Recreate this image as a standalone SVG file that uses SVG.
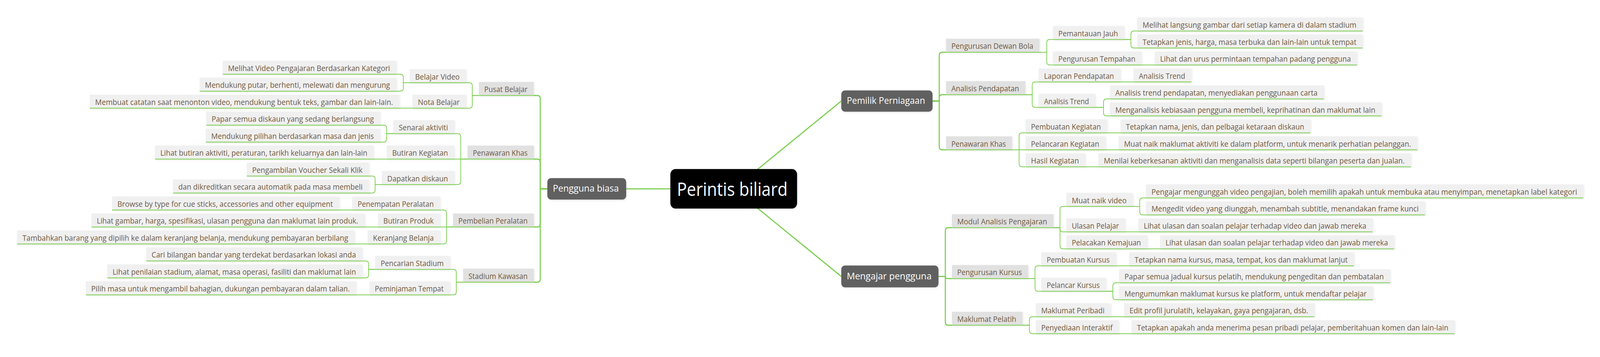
<svg xmlns="http://www.w3.org/2000/svg" width="4382" height="915" viewBox="0 0 4382 915" preserveAspectRatio="none">
<defs>
<filter id="sh" x="-5%" y="-25%" width="110%" height="170%">
<feDropShadow dx="1.5" dy="2" stdDeviation="2.5" flood-color="#000" flood-opacity="0.10"/>
</filter>
<style>
svg:root{width:100vw;height:100vh}
text{font-family:"Open Sans","Noto Sans","DejaVu Sans",sans-serif}
.n2 rect{fill:#e1e1e1;filter:url(#sh)}
.n3 rect,.n4 rect{fill:#f0f0f0;filter:url(#sh)}
.n2 line,.n3 line,.n4 line{stroke:#7dcf52;stroke-width:2}
.n2 text,.n3 text,.n4 text{font-size:20px;fill:#6d5944}
.n1 rect{fill:#616161;filter:url(#sh)}
.n1 text{font-size:24px;fill:#ffffff}
.n0 rect{fill:#000000;filter:url(#sh)}
.n0 text{font-size:47px;fill:#ffffff}
.c path{fill:none;stroke:#7dcf52;stroke-width:2}
.c path.w{stroke-width:3}
</style>
</defs>
<rect x="0" y="0" width="4382" height="915" fill="#ffffff"/>

<g id="connectors" class="c">
<path class="w" d="M2009.5,483.9 H1715"/>
<path class="w" d="M2009.5,483.9 L2304,259.04"/>
<path class="w" d="M2009.5,483.9 L2304,708.49"/>

<path class="w" d="M1462,244.68 H1471.6 Q1479.6,244.68 1479.6,252.68 V483.9 H1499"/>
<path class="w" d="M1462,407.8 H1471.6 Q1479.6,407.8 1479.6,415.8 V483.9 H1499"/>
<path class="w" d="M1462,581.8 H1471.6 Q1479.6,581.8 1479.6,573.8 V483.9 H1499"/>
<path class="w" d="M1462,723.18 H1471.6 Q1479.6,723.18 1479.6,715.18 V483.9 H1499"/>

<path d="M1276,212.05 H1285.5 Q1293.5,212.05 1293.5,220.05 V244.68 H1311.8"/>
<path d="M1276,277.3 H1285.5 Q1293.5,277.3 1293.5,269.3 V244.68 H1311.8"/>
<path d="M1085.2,190.3 H1096.6 Q1104.6,190.3 1104.6,198.3 V212.05 H1122.5"/>
<path d="M1085.2,233.8 H1096.6 Q1104.6,233.8 1104.6,225.8 V212.05 H1122.5"/>
<path d="M1093.5,277.3 H1130"/>

<path d="M1244,342.55 H1253.8 Q1261.8,342.55 1261.8,350.55 V407.8 H1280.5"/>
<path d="M1244,407.8 H1280.5"/>
<path d="M1244,473.05 H1253.8 Q1261.8,473.05 1261.8,465.05 V407.8 H1280.5"/>
<path d="M1041,320.8 H1050.7 Q1058.7,320.8 1058.7,328.8 V342.55 H1077.4"/>
<path d="M1041,364.3 H1050.7 Q1058.7,364.3 1058.7,356.3 V342.55 H1077.4"/>
<path d="M1023,407.8 H1059.5"/>
<path d="M1010,451.3 H1019.4 Q1027.4,451.3 1027.4,459.3 V473.05 H1046"/>
<path d="M1010,494.8 H1019.4 Q1027.4,494.8 1027.4,486.8 V473.05 H1046"/>

<path d="M1205,538.3 H1215 Q1223,538.3 1223,546.3 V581.8 H1240.8"/>
<path d="M1205,581.8 H1240.8"/>
<path d="M1205,625.3 H1215 Q1223,625.3 1223,617.3 V581.8 H1240.8"/>
<path d="M929,538.3 H965"/>
<path d="M998,581.8 H1035.4"/>
<path d="M970.7,625.3 H1007"/>

<path d="M1232,690.55 H1241.7 Q1249.7,690.55 1249.7,698.55 V723.18 H1268.5"/>
<path d="M1232,755.8 H1241.7 Q1249.7,755.8 1249.7,747.8 V723.18 H1268.5"/>
<path d="M992,668.8 H1001.6 Q1009.6,668.8 1009.6,676.8 V690.55 H1028"/>
<path d="M992,712.3 H1001.6 Q1009.6,712.3 1009.6,704.3 V690.55 H1028"/>
<path d="M975,755.8 H1012"/>

<path class="w" d="M2554,259.04 H2572.3 V141.98 Q2572.3,133.98 2580.3,133.98 H2591"/>
<path class="w" d="M2554,259.04 H2572.3 V250.73 Q2572.3,242.73 2580.3,242.73 H2591"/>
<path class="w" d="M2554,259.04 H2572.3 V376.1 Q2572.3,384.1 2580.3,384.1 H2591"/>

<path d="M2847,133.98 H2866.7 V109.35 Q2866.7,101.35 2874.7,101.35 H2884"/>
<path d="M2847,133.98 H2866.7 V158.6 Q2866.7,166.6 2874.7,166.6 H2884"/>
<path d="M3079,101.35 H3097.4 V87.6 Q3097.4,79.6 3105.4,79.6 H3114.8"/>
<path d="M3079,101.35 H3097.4 V115.1 Q3097.4,123.1 3105.4,123.1 H3114.8"/>
<path d="M3126.5,166.6 H3162.8"/>

<path d="M2808,242.73 H2827 V218.1 Q2827,210.1 2835,210.1 H2844.8"/>
<path d="M2808,242.73 H2827 V267.35 Q2827,275.35 2835,275.35 H2844.8"/>
<path d="M3068,210.1 H3104.6"/>
<path d="M2999.5,275.35 H3022.3 V261.6 Q3022.3,253.6 3030.3,253.6 H3040"/>
<path d="M2999.5,275.35 H3022.3 V289.1 Q3022.3,297.1 3030.3,297.1 H3040"/>

<path d="M2772,384.1 H2791 V348.6 Q2791,340.6 2799,340.6 H2809"/>
<path d="M2772,384.1 H2809"/>
<path d="M2772,384.1 H2791 V419.6 Q2791,427.6 2799,427.6 H2809"/>
<path d="M3032,340.6 H3069"/>
<path d="M3027.5,384.1 H3063.8"/>
<path d="M2972,427.6 H3008.6"/>

<path class="w" d="M2570.3,708.49 H2589 V591.43 Q2589,583.43 2597,583.43 H2607"/>
<path class="w" d="M2570.3,708.49 H2589 Q2589,713.93 2594.4,713.93 H2607"/>
<path class="w" d="M2570.3,708.49 H2589 V825.55 Q2589,833.55 2597,833.55 H2607"/>

<path d="M2885,583.43 H2903 V537.05 Q2903,529.05 2911,529.05 H2920.8"/>
<path d="M2885,583.43 H2903 V586.3 Q2903,594.3 2911,594.3 H2920.8"/>
<path d="M2885,583.43 H2903 V629.8 Q2903,637.8 2911,637.8 H2920.8"/>
<path d="M3102.5,529.05 H3121.4 V515.3 Q3121.4,507.3 3129.4,507.3 H3139"/>
<path d="M3102.5,529.05 H3121.4 V542.8 Q3121.4,550.8 3129.4,550.8 H3139"/>
<path d="M3081.6,594.3 H3117.9"/>
<path d="M3141.8,637.8 H3177.6"/>

<path d="M2816,713.93 H2834.6 V689.3 Q2834.6,681.3 2842.6,681.3 H2852"/>
<path d="M2816,713.93 H2834.6 V738.55 Q2834.6,746.55 2842.6,746.55 H2852"/>
<path d="M3056,681.3 H3092.9"/>
<path d="M3029,746.55 H3047.9 V732.8 Q3047.9,724.8 3055.9,724.8 H3065.3"/>
<path d="M3029,746.55 H3047.9 V760.3 Q3047.9,768.3 3055.9,768.3 H3065.3"/>

<path d="M2800.4,833.55 H2819.3 V819.8 Q2819.3,811.8 2827.3,811.8 H2837"/>
<path d="M2800.4,833.55 H2819.3 V847.3 Q2819.3,855.3 2827.3,855.3 H2837"/>
<path d="M3042,811.8 H3079"/>
<path d="M3064,855.3 H3099.5"/>
</g>

<g id="n-root" class="n0"><rect x="1836" y="433.2" width="347" height="101.4" rx="14"/><text x="1854" y="502.5" textLength="303" lengthAdjust="spacingAndGlyphs">Perintis biliard</text></g>

<g id="n-pengguna-biasa" class="n1"><rect x="1499" y="456.4" width="216" height="55" rx="10"/><text x="1514" y="491.4" textLength="181" lengthAdjust="spacingAndGlyphs">Pengguna biasa</text></g>
<g id="n-pemilik" class="n1"><rect x="2304" y="231.7" width="250" height="54.6" rx="10"/><text x="2319" y="266.5" textLength="214.6" lengthAdjust="spacingAndGlyphs">Pemilik Perniagaan</text></g>
<g id="n-mengajar" class="n1"><rect x="2304" y="680.6" width="266.3" height="55.8" rx="10"/><text x="2319" y="716" textLength="232.4" lengthAdjust="spacingAndGlyphs">Mengajar pengguna</text></g>

<g id="n-pusat-belajar" class="n2"><rect x="1311.8" y="210.08" width="150" height="34.6"/><line x1="1311.8" y1="244.68" x2="1461.8" y2="244.68"/><text x="1326.3" y="236.2" textLength="118.5" lengthAdjust="spacingAndGlyphs">Pusat Belajar</text></g>
<g id="n-penawaran-khas-l" class="n2"><rect x="1280.5" y="373.2" width="181.5" height="34.6"/><line x1="1280.5" y1="407.8" x2="1462" y2="407.8"/><text x="1295" y="399.3" textLength="150" lengthAdjust="spacingAndGlyphs">Penawaran Khas</text></g>
<g id="n-pembelian-peralatan" class="n2"><rect x="1240.8" y="547.2" width="221.2" height="34.6"/><line x1="1240.8" y1="581.8" x2="1462" y2="581.8"/><text x="1255.3" y="573.3" textLength="189.7" lengthAdjust="spacingAndGlyphs">Pembelian Peralatan</text></g>
<g id="n-stadium-kawasan" class="n2"><rect x="1268.5" y="688.58" width="193.5" height="34.6"/><line x1="1268.5" y1="723.18" x2="1462" y2="723.18"/><text x="1283" y="714.7" textLength="162" lengthAdjust="spacingAndGlyphs">Stadium Kawasan</text></g>

<g id="n-belajar-video" class="n3"><rect x="1122.5" y="177.45" width="153.5" height="34.6"/><line x1="1122.5" y1="212.05" x2="1276" y2="212.05"/><text x="1137" y="203.55" textLength="122" lengthAdjust="spacingAndGlyphs">Belajar Video</text></g>
<g id="n-nota-belajar" class="n3"><rect x="1130" y="242.7" width="146" height="34.6"/><line x1="1130" y1="277.3" x2="1276" y2="277.3"/><text x="1144.5" y="268.8" textLength="114.5" lengthAdjust="spacingAndGlyphs">Nota Belajar</text></g>
<g id="n-senarai-aktiviti" class="n3"><rect x="1077.4" y="307.95" width="166.6" height="34.6"/><line x1="1077.4" y1="342.55" x2="1244" y2="342.55"/><text x="1091.9" y="334.05" textLength="135.1" lengthAdjust="spacingAndGlyphs">Senarai aktiviti</text></g>
<g id="n-butiran-kegiatan" class="n3"><rect x="1059.5" y="373.2" width="184.5" height="34.6"/><line x1="1059.5" y1="407.8" x2="1244" y2="407.8"/><text x="1074" y="399.3" textLength="153" lengthAdjust="spacingAndGlyphs">Butiran Kegiatan</text></g>
<g id="n-dapatkan-diskaun" class="n3"><rect x="1046" y="438.45" width="198" height="34.6"/><line x1="1046" y1="473.05" x2="1244" y2="473.05"/><text x="1060.5" y="464.55" textLength="166.5" lengthAdjust="spacingAndGlyphs">Dapatkan diskaun</text></g>
<g id="n-penempatan-peralatan" class="n3"><rect x="965" y="503.7" width="240" height="34.6"/><line x1="965" y1="538.3" x2="1205" y2="538.3"/><text x="979.5" y="529.8" textLength="208.5" lengthAdjust="spacingAndGlyphs">Penempatan Peralatan</text></g>
<g id="n-butiran-produk" class="n3"><rect x="1035.4" y="547.2" width="169.6" height="34.6"/><line x1="1035.4" y1="581.8" x2="1205" y2="581.8"/><text x="1049.9" y="573.3" textLength="138.1" lengthAdjust="spacingAndGlyphs">Butiran Produk</text></g>
<g id="n-keranjang-belanja" class="n3"><rect x="1007" y="590.7" width="198" height="34.6"/><line x1="1007" y1="625.3" x2="1205" y2="625.3"/><text x="1021.5" y="616.8" textLength="166.5" lengthAdjust="spacingAndGlyphs">Keranjang Belanja</text></g>
<g id="n-pencarian-stadium" class="n3"><rect x="1028" y="655.95" width="204" height="34.6"/><line x1="1028" y1="690.55" x2="1232" y2="690.55"/><text x="1042.5" y="682.05" textLength="172.5" lengthAdjust="spacingAndGlyphs">Pencarian Stadium</text></g>
<g id="n-peminjaman-tempat" class="n3"><rect x="1012" y="721.2" width="220" height="34.6"/><line x1="1012" y1="755.8" x2="1232" y2="755.8"/><text x="1026.5" y="747.3" textLength="188.5" lengthAdjust="spacingAndGlyphs">Peminjaman Tempat</text></g>

<g id="n-l0" class="n4"><rect x="610" y="155.7" width="475.2" height="34.6"/><line x1="610" y1="190.3" x2="1085.2" y2="190.3"/><text x="624.5" y="181.8" textLength="443.7" lengthAdjust="spacingAndGlyphs">Melihat Video Pengajaran Berdasarkan Kategori</text></g>
<g id="n-l1" class="n4"><rect x="547" y="199.2" width="538.2" height="34.6"/><line x1="547" y1="233.8" x2="1085.2" y2="233.8"/><text x="561.5" y="225.3" textLength="506.7" lengthAdjust="spacingAndGlyphs">Mendukung putar, berhenti, melewati dan mengurung</text></g>
<g id="n-l2" class="n4"><rect x="246" y="242.7" width="847.5" height="34.6"/><line x1="246" y1="277.3" x2="1093.5" y2="277.3"/><text x="260.5" y="268.8" textLength="816" lengthAdjust="spacingAndGlyphs">Membuat catatan saat menonton video, mendukung bentuk teks, gambar dan lain-lain.</text></g>
<g id="n-l3" class="n4"><rect x="565" y="286.2" width="476" height="34.6"/><line x1="565" y1="320.8" x2="1041" y2="320.8"/><text x="579.5" y="312.3" textLength="444.5" lengthAdjust="spacingAndGlyphs">Papar semua diskaun yang sedang berlangsung</text></g>
<g id="n-l4" class="n4"><rect x="564" y="329.7" width="477" height="34.6"/><line x1="564" y1="364.3" x2="1041" y2="364.3"/><text x="578.5" y="355.8" textLength="445.5" lengthAdjust="spacingAndGlyphs">Mendukung pilihan berdasarkan masa dan jenis</text></g>
<g id="n-l5" class="n4"><rect x="424.6" y="373.2" width="598.4" height="34.6"/><line x1="424.6" y1="407.8" x2="1023" y2="407.8"/><text x="439.1" y="399.3" textLength="566.9" lengthAdjust="spacingAndGlyphs">Lihat butiran aktiviti, peraturan, tarikh keluarnya dan lain-lain</text></g>
<g id="n-l6" class="n4"><rect x="676" y="416.7" width="334" height="34.6"/><line x1="676" y1="451.3" x2="1010" y2="451.3"/><text x="690.5" y="442.8" textLength="302.5" lengthAdjust="spacingAndGlyphs">Pengambilan Voucher Sekali Klik</text></g>
<g id="n-l7" class="n4"><rect x="474" y="460.2" width="536" height="34.6"/><line x1="474" y1="494.8" x2="1010" y2="494.8"/><text x="488.5" y="486.3" textLength="504.5" lengthAdjust="spacingAndGlyphs">dan dikreditkan secara automatik pada masa membeli</text></g>
<g id="n-l8" class="n4"><rect x="307" y="503.7" width="622" height="34.6"/><line x1="307" y1="538.3" x2="929" y2="538.3"/><text x="321.5" y="529.8" textLength="590.5" lengthAdjust="spacingAndGlyphs">Browse by type for cue sticks, accessories and other equipment</text></g>
<g id="n-l9" class="n4"><rect x="250.5" y="547.2" width="747.5" height="34.6"/><line x1="250.5" y1="581.8" x2="998" y2="581.8"/><text x="265" y="573.3" textLength="716" lengthAdjust="spacingAndGlyphs">Lihat gambar, harga, spesifikasi, ulasan pengguna dan maklumat lain produk.</text></g>
<g id="n-l10" class="n4"><rect x="47" y="590.7" width="923.7" height="34.6"/><line x1="47" y1="625.3" x2="970.7" y2="625.3"/><text x="61.5" y="616.8" textLength="892.2" lengthAdjust="spacingAndGlyphs">Tambahkan barang yang dipilih ke dalam keranjang belanja, mendukung pembayaran berbilang</text></g>
<g id="n-l11" class="n4"><rect x="400.5" y="634.2" width="591.5" height="34.6"/><line x1="400.5" y1="668.8" x2="992" y2="668.8"/><text x="415" y="660.3" textLength="560" lengthAdjust="spacingAndGlyphs">Cari bilangan bandar yang terdekat berdasarkan lokasi anda</text></g>
<g id="n-l12" class="n4"><rect x="293.8" y="677.7" width="698.2" height="34.6"/><line x1="293.8" y1="712.3" x2="992" y2="712.3"/><text x="308.3" y="703.8" textLength="666.7" lengthAdjust="spacingAndGlyphs">Lihat penilaian stadium, alamat, masa operasi, fasiliti dan maklumat lain</text></g>
<g id="n-l13" class="n4"><rect x="235.4" y="721.2" width="739.6" height="34.6"/><line x1="235.4" y1="755.8" x2="975" y2="755.8"/><text x="249.9" y="747.3" textLength="708.1" lengthAdjust="spacingAndGlyphs">Pilih masa untuk mengambil bahagian, dukungan pembayaran dalam talian.</text></g>

<g id="n-dewan-bola" class="n2"><rect x="2591" y="99.38" width="256" height="34.6"/><line x1="2591" y1="133.98" x2="2847" y2="133.98"/><text x="2605.5" y="125.5" textLength="224.5" lengthAdjust="spacingAndGlyphs">Pengurusan Dewan Bola</text></g>
<g id="n-analisis-pendapatan" class="n2"><rect x="2591" y="208.13" width="217" height="34.6"/><line x1="2591" y1="242.73" x2="2808" y2="242.73"/><text x="2605.5" y="234.2" textLength="185.5" lengthAdjust="spacingAndGlyphs">Analisis Pendapatan</text></g>
<g id="n-penawaran-khas-r" class="n2"><rect x="2591" y="349.5" width="181" height="34.6"/><line x1="2591" y1="384.1" x2="2772" y2="384.1"/><text x="2605.5" y="375.6" textLength="149.5" lengthAdjust="spacingAndGlyphs">Penawaran Khas</text></g>
<g id="n-modul" class="n2"><rect x="2607" y="548.83" width="278" height="34.6"/><line x1="2607" y1="583.43" x2="2885" y2="583.43"/><text x="2621.5" y="574.9" textLength="246.5" lengthAdjust="spacingAndGlyphs">Modul Analisis Pengajaran</text></g>
<g id="n-pengurusan-kursus" class="n2"><rect x="2607" y="679.33" width="209" height="34.6"/><line x1="2607" y1="713.93" x2="2816" y2="713.93"/><text x="2621.5" y="705.4" textLength="177.5" lengthAdjust="spacingAndGlyphs">Pengurusan Kursus</text></g>
<g id="n-maklumat-pelatih" class="n2"><rect x="2607" y="798.95" width="193.4" height="34.6"/><line x1="2607" y1="833.55" x2="2800.4" y2="833.55"/><text x="2621.5" y="825.05" textLength="161.9" lengthAdjust="spacingAndGlyphs">Maklumat Pelatih</text></g>

<g id="n-pemantauan-jauh" class="n3"><rect x="2884" y="66.75" width="195" height="34.6"/><line x1="2884" y1="101.35" x2="3079" y2="101.35"/><text x="2898.5" y="92.85" textLength="163.5" lengthAdjust="spacingAndGlyphs">Pemantauan Jauh</text></g>
<g id="n-pengurusan-tempahan" class="n3"><rect x="2884" y="132" width="242.5" height="34.6"/><line x1="2884" y1="166.6" x2="3126.5" y2="166.6"/><text x="2898.5" y="158.1" textLength="211" lengthAdjust="spacingAndGlyphs">Pengurusan Tempahan</text></g>
<g id="n-laporan-pendapatan" class="n3"><rect x="2844.8" y="175.5" width="223.2" height="34.6"/><line x1="2844.8" y1="210.1" x2="3068" y2="210.1"/><text x="2859.3" y="201.6" textLength="191.7" lengthAdjust="spacingAndGlyphs">Laporan Pendapatan</text></g>
<g id="n-analisis-trend" class="n3"><rect x="2844.8" y="240.75" width="154.7" height="34.6"/><line x1="2844.8" y1="275.35" x2="2999.5" y2="275.35"/><text x="2859.3" y="266.85" textLength="123.2" lengthAdjust="spacingAndGlyphs">Analisis Trend</text></g>
<g id="n-pembuatan-kegiatan" class="n3"><rect x="2809" y="306" width="223" height="34.6"/><line x1="2809" y1="340.6" x2="3032" y2="340.6"/><text x="2823.5" y="332.1" textLength="191.5" lengthAdjust="spacingAndGlyphs">Pembuatan Kegiatan</text></g>
<g id="n-pelancaran-kegiatan" class="n3"><rect x="2809" y="349.5" width="218.5" height="34.6"/><line x1="2809" y1="384.1" x2="3027.5" y2="384.1"/><text x="2823.5" y="375.6" textLength="187" lengthAdjust="spacingAndGlyphs">Pelancaran Kegiatan</text></g>
<g id="n-hasil-kegiatan" class="n3"><rect x="2809" y="393" width="163" height="34.6"/><line x1="2809" y1="427.6" x2="2972" y2="427.6"/><text x="2823.5" y="419.1" textLength="131.5" lengthAdjust="spacingAndGlyphs">Hasil Kegiatan</text></g>
<g id="n-muat-naik-video" class="n3"><rect x="2920.8" y="494.45" width="181.7" height="34.6"/><line x1="2920.8" y1="529.05" x2="3102.5" y2="529.05"/><text x="2935.3" y="520.55" textLength="150.2" lengthAdjust="spacingAndGlyphs">Muat naik video</text></g>
<g id="n-ulasan-pelajar" class="n3"><rect x="2920.8" y="559.7" width="160.8" height="34.6"/><line x1="2920.8" y1="594.3" x2="3081.6" y2="594.3"/><text x="2935.3" y="585.8" textLength="129.3" lengthAdjust="spacingAndGlyphs">Ulasan Pelajar</text></g>
<g id="n-pelacakan-kemajuan" class="n3"><rect x="2920.8" y="603.2" width="221" height="34.6"/><line x1="2920.8" y1="637.8" x2="3141.8" y2="637.8"/><text x="2935.3" y="629.3" textLength="189.5" lengthAdjust="spacingAndGlyphs">Pelacakan Kemajuan</text></g>
<g id="n-pembuatan-kursus" class="n3"><rect x="2852" y="646.7" width="204" height="34.6"/><line x1="2852" y1="681.3" x2="3056" y2="681.3"/><text x="2866.5" y="672.8" textLength="172.5" lengthAdjust="spacingAndGlyphs">Pembuatan Kursus</text></g>
<g id="n-pelancar-kursus" class="n3"><rect x="2852" y="711.95" width="177" height="34.6"/><line x1="2852" y1="746.55" x2="3029" y2="746.55"/><text x="2866.5" y="738.05" textLength="145.5" lengthAdjust="spacingAndGlyphs">Pelancar Kursus</text></g>
<g id="n-maklumat-peribadi" class="n3"><rect x="2837" y="777.2" width="205" height="34.6"/><line x1="2837" y1="811.8" x2="3042" y2="811.8"/><text x="2851.5" y="803.3" textLength="173.5" lengthAdjust="spacingAndGlyphs">Maklumat Peribadi</text></g>
<g id="n-penyediaan-interaktif" class="n3"><rect x="2837" y="820.7" width="227" height="34.6"/><line x1="2837" y1="855.3" x2="3064" y2="855.3"/><text x="2851.5" y="846.8" textLength="195.5" lengthAdjust="spacingAndGlyphs">Penyediaan Interaktif</text></g>

<g id="n-r0" class="n4"><rect x="3114.8" y="45" width="617.2" height="34.6"/><line x1="3114.8" y1="79.6" x2="3732" y2="79.6"/><text x="3129.3" y="71.1" textLength="585.7" lengthAdjust="spacingAndGlyphs">Melihat langsung gambar dari setiap kamera di dalam stadium</text></g>
<g id="n-r1" class="n4"><rect x="3114.8" y="88.5" width="617.2" height="34.6"/><line x1="3114.8" y1="123.1" x2="3732" y2="123.1"/><text x="3129.3" y="114.6" textLength="585.7" lengthAdjust="spacingAndGlyphs">Tetapkan jenis, harga, masa terbuka dan lain-lain untuk tempat</text></g>
<g id="n-r2" class="n4"><rect x="3162.8" y="132" width="554" height="34.6"/><line x1="3162.8" y1="166.6" x2="3716.8" y2="166.6"/><text x="3177.3" y="158.1" textLength="522.5" lengthAdjust="spacingAndGlyphs">Lihat dan urus permintaan tempahan padang pengguna</text></g>
<g id="n-r3" class="n4"><rect x="3104.6" y="175.5" width="158.4" height="34.6"/><line x1="3104.6" y1="210.1" x2="3263" y2="210.1"/><text x="3119.1" y="201.6" textLength="126.9" lengthAdjust="spacingAndGlyphs">Analisis Trend</text></g>
<g id="n-r4" class="n4"><rect x="3040" y="219" width="585.5" height="34.6"/><line x1="3040" y1="253.6" x2="3625.5" y2="253.6"/><text x="3054.5" y="245.1" textLength="554" lengthAdjust="spacingAndGlyphs">Analisis trend pendapatan, menyediakan penggunaan carta</text></g>
<g id="n-r5" class="n4"><rect x="3040" y="262.5" width="743.7" height="34.6"/><line x1="3040" y1="297.1" x2="3783.7" y2="297.1"/><text x="3054.5" y="288.6" textLength="712.2" lengthAdjust="spacingAndGlyphs">Menganalisis kebiasaan pengguna membeli, keprihatinan dan maklumat lain</text></g>
<g id="n-r6" class="n4"><rect x="3069" y="306" width="520" height="34.6"/><line x1="3069" y1="340.6" x2="3589" y2="340.6"/><text x="3083.5" y="332.1" textLength="488.5" lengthAdjust="spacingAndGlyphs">Tetapkan nama, jenis, dan pelbagai ketaraan diskaun</text></g>
<g id="n-r7" class="n4"><rect x="3063.8" y="349.5" width="817.9" height="34.6"/><line x1="3063.8" y1="384.1" x2="3881.7" y2="384.1"/><text x="3078.3" y="375.6" textLength="786.4" lengthAdjust="spacingAndGlyphs">Muat naik maklumat aktiviti ke dalam platform, untuk menarik perhatian pelanggan.</text></g>
<g id="n-r8" class="n4"><rect x="3008.6" y="393" width="855.4" height="34.6"/><line x1="3008.6" y1="427.6" x2="3864" y2="427.6"/><text x="3023.1" y="419.1" textLength="823.9" lengthAdjust="spacingAndGlyphs">Menilai keberkesanan aktiviti dan menganalisis data seperti bilangan peserta dan jualan.</text></g>
<g id="n-q0" class="n4"><rect x="3139" y="472.7" width="1197.4" height="34.6"/><line x1="3139" y1="507.3" x2="4336.4" y2="507.3"/><text x="3153.5" y="498.8" textLength="1165.9" lengthAdjust="spacingAndGlyphs">Pengajar mengunggah video pengajian, boleh memilih apakah untuk membuka atau menyimpan, menetapkan label kategori</text></g>
<g id="n-q1" class="n4"><rect x="3139" y="516.2" width="763.5" height="34.6"/><line x1="3139" y1="550.8" x2="3902.5" y2="550.8"/><text x="3153.5" y="542.3" textLength="732" lengthAdjust="spacingAndGlyphs">Mengedit video yang diunggah, menambah subtitle, menandakan frame kunci</text></g>
<g id="n-q2" class="n4"><rect x="3117.9" y="559.7" width="641.1" height="34.6"/><line x1="3117.9" y1="594.3" x2="3759" y2="594.3"/><text x="3132.4" y="585.8" textLength="609.6" lengthAdjust="spacingAndGlyphs">Lihat ulasan dan soalan pelajar terhadap video dan jawab mereka</text></g>
<g id="n-q3" class="n4"><rect x="3177.6" y="603.2" width="640.8" height="34.6"/><line x1="3177.6" y1="637.8" x2="3818.4" y2="637.8"/><text x="3192.1" y="629.3" textLength="609.3" lengthAdjust="spacingAndGlyphs">Lihat ulasan dan soalan pelajar terhadap video dan jawab mereka</text></g>
<g id="n-q4" class="n4"><rect x="3092.9" y="646.7" width="615.1" height="34.6"/><line x1="3092.9" y1="681.3" x2="3708" y2="681.3"/><text x="3107.4" y="672.8" textLength="583.6" lengthAdjust="spacingAndGlyphs">Tetapkan nama kursus, masa, tempat, kos dan maklumat lanjut</text></g>
<g id="n-q5" class="n4"><rect x="3065.3" y="690.2" width="741.7" height="34.6"/><line x1="3065.3" y1="724.8" x2="3807" y2="724.8"/><text x="3079.8" y="716.3" textLength="710.2" lengthAdjust="spacingAndGlyphs">Papar semua jadual kursus pelatih, mendukung pengeditan dan pembatalan</text></g>
<g id="n-q6" class="n4"><rect x="3065.3" y="733.7" width="694.7" height="34.6"/><line x1="3065.3" y1="768.3" x2="3760" y2="768.3"/><text x="3079.8" y="759.8" textLength="663.2" lengthAdjust="spacingAndGlyphs">Mengumumkan maklumat kursus ke platform, untuk mendaftar pelajar</text></g>
<g id="n-q7" class="n4"><rect x="3079" y="777.2" width="520.5" height="34.6"/><line x1="3079" y1="811.8" x2="3599.5" y2="811.8"/><text x="3093.5" y="803.3" textLength="489" lengthAdjust="spacingAndGlyphs">Edit profil jurulatih, kelayakan, gaya pengajaran, dsb.</text></g>
<g id="n-q8" class="n4"><rect x="3099.5" y="820.7" width="884.2" height="34.6"/><line x1="3099.5" y1="855.3" x2="3983.7" y2="855.3"/><text x="3114" y="846.8" textLength="852.7" lengthAdjust="spacingAndGlyphs">Tetapkan apakah anda menerima pesan pribadi pelajar, pemberitahuan komen dan lain-lain</text></g>
</svg>
